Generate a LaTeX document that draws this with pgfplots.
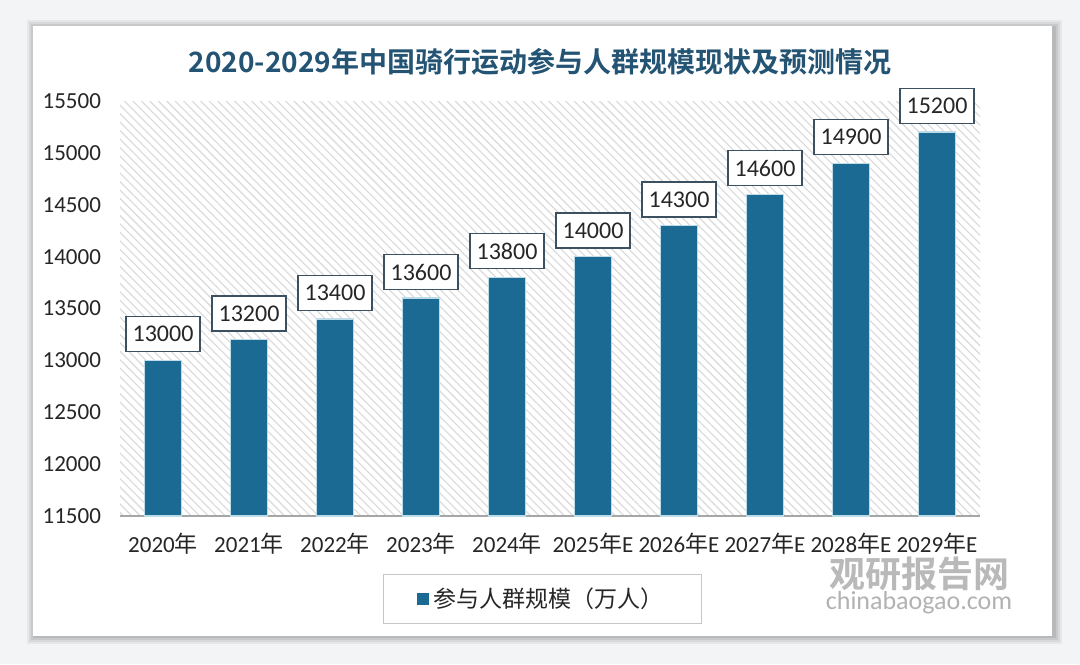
\documentclass[border=0pt]{standalone}
\usepackage{pgfplots}
\pgfplotsset{compat=1.18}
\usepackage{fontspec}
\setmainfont{Carlito}
\newfontfamily\cjk{Noto Sans CJK SC}[BoldFont=Noto Sans CJK SC Bold]
\usetikzlibrary{patterns.meta}
\definecolor{barcol}{RGB}{27,106,147}
\definecolor{titlecol}{RGB}{36,84,116}
\definecolor{bgcol}{RGB}{243,244,246}
\definecolor{boxcol}{RGB}{60,80,95}
\begin{document}
\begin{tikzpicture}
\useasboundingbox (0pt,0pt) rectangle (540pt,332pt);
\fill[bgcol] (0pt,0pt) rectangle (540pt,332pt);
% card shadow
\foreach \s/\o in {4/0.05,3/0.06,2/0.07,1/0.08}{
  \fill[black,opacity=\o] (16.5pt-\s pt+1pt,14pt-\s pt) rectangle (526pt+\s pt+1pt,319pt+\s pt-1pt);
}
\fill[white] (16.5pt,14pt) rectangle (526pt,319pt);
% title
\node[text=titlecol,font=\cjk\bfseries\fontsize{14}{17}\selectfont] at (270pt,301pt) {2020-2029年中国骑行运动参与人群规模现状及预测情况};
% watermark
\node[text=gray!55,font=\cjk\bfseries\fontsize{18}{20}\selectfont] at (459.5pt,45pt) {观研报告网};
\node[text=gray!60,font=\fontsize{13}{14}\selectfont] at (459.5pt,30.5pt) {chinabaogao.com};
\begin{axis}[
  at={(60pt,74pt)}, anchor=south west,
  scale only axis,
  width=430pt, height=207.5pt,
  xmin=-0.5, xmax=9.5,
  ymin=11500, ymax=15500,
  ytick={11500,12000,12500,13000,13500,14000,14500,15000,15500},
  scaled y ticks=false,
  xtick=data,
  xticklabels={{2020{\cjk 年}},{2021{\cjk 年}},{2022{\cjk 年}},{2023{\cjk 年}},{2024{\cjk 年}},{2025{\cjk 年}E},{2026{\cjk 年}E},{2027{\cjk 年}E},{2028{\cjk 年}E},{2029{\cjk 年}E}},
  /pgf/number format/assume math mode=true,
  /pgf/number format/1000 sep={},
  tick label style={font=\fontsize{11.5}{12}\selectfont, text=black!85},
  yticklabel style={xshift=-6pt},
  xticklabel style={yshift=-5pt},
  major tick length=0pt,
  axis x line*=bottom,
  x axis line style={draw=gray!70, line width=0.6pt, -},
  axis y line*=left,
  y axis line style={draw=none},
  axis background/.style={pattern={Lines[angle=-45,distance=3pt,line width=0.55pt]}, pattern color=gray!30},
  ybar, bar width=18.5pt,
  nodes near coords,
  every node near coord/.append style={
    draw=boxcol, line width=0.6pt, fill=white, anchor=south, yshift=4pt,
    minimum width=37pt, minimum height=17.5pt, inner sep=0pt,
    font=\fontsize{12}{12}\selectfont, text=black!85},
  legend style={at={(axis description cs:0.491,-0.2)}, anchor=center,
    draw=gray!45, line width=0.5pt, inner xsep=17pt, inner ysep=4.5pt,
    font=\cjk\fontsize{11.5}{14}\selectfont, text=black!85},
  legend image code/.code={\fill[barcol] (0pt,-2.75pt) rectangle (5.5pt,2.75pt);},
]
\addplot[fill=barcol, draw={rgb,255:red,190;green,220;blue,232}, line width=0.7pt] coordinates {
  (0,13000) (1,13200) (2,13400) (3,13600) (4,13800)
  (5,14000) (6,14300) (7,14600) (8,14900) (9,15200)};
\addlegendentry{参与人群规模（万人）}
\end{axis}
\end{tikzpicture}
\end{document}
